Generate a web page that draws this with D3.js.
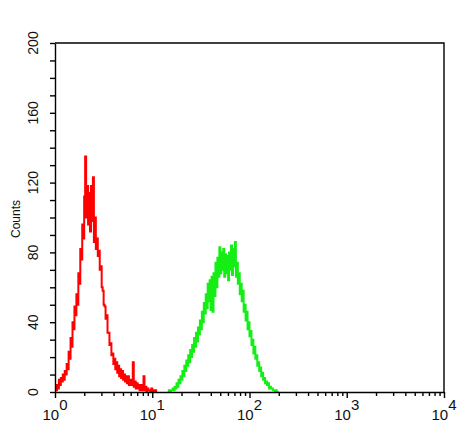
<!DOCTYPE html>
<html>
<head>
<meta charset="utf-8">
<script src="https://cdn.jsdelivr.net/npm/d3@7"></script>
<style>
    html, body { margin: 0; padding: 0; background: #fff; }
    svg { display: block; font-family: "Liberation Sans", Arial, sans-serif; }
</style>
</head>
<body>
<div id="chart"></div>
<script>
/**
 * Flow cytometry overlay histogram: two channels on a log x axis.
 */
(function() {
    "use strict";

    // log10 start of the first bin and bin width (decades)
    var redStart = 0.0;
    var greenStart = 1.16;
    var binWidth = 0.01;

    var redCounts = [
        2, 1, 4, 2, 7, 4, 8, 6, 10, 7,
        12, 10, 16, 13, 23, 19, 31, 26, 40, 36,
        49, 44, 56, 50, 68, 62, 82, 76, 96, 88,
        112, 135, 100, 118, 96, 114, 92, 118, 98, 123,
        86, 100, 82, 88, 78, 81, 70, 72, 60, 58,
        50, 49, 42, 44, 34, 34, 27, 28, 21, 22,
        16, 19, 13, 17, 11, 15, 9, 13, 8, 12,
        7, 10, 6, 9, 5, 9, 4, 7, 4, 6,
        17, 3, 6, 2, 5, 2, 4, 1, 4, 1,
        3, 9, 1, 3, 0, 2, 1, 1, 0, 2,
        0, 1, 0, 1, 0
    ];

    var greenCounts = [
        0, 1, 0, 1, 1, 2, 1, 3, 2, 5,
        3, 7, 5, 9, 7, 12, 9, 15, 12, 18,
        15, 21, 17, 24, 20, 27, 23, 31, 26, 34,
        29, 37, 33, 41, 36, 46, 40, 51, 45, 56,
        48, 62, 52, 64, 47, 66, 46, 68, 55, 74,
        60, 77, 66, 83, 68, 80, 70, 82, 66, 79,
        68, 78, 64, 80, 70, 84, 67, 82, 72, 86,
        66, 74, 62, 68, 56, 62, 52, 58, 46, 50,
        41, 46, 36, 40, 32, 35, 27, 30, 22, 26,
        19, 21, 15, 17, 12, 14, 9, 11, 7, 8,
        5, 6, 4, 5, 2, 3, 2, 2, 1, 1,
        0, 1, 0, 0, 0
    ];

    var xMajorTicks = [1, 10, 100, 1000, 10000];
    var xTickExponents = ["0", "1", "2", "3", "4"];
    var yLabelTicks = [0, 40, 80, 120, 160, 200];
    var yLabel = "Counts";

    var width = 467;
    var height = 443;
    var margin = { top: 43, right: 23, bottom: 51, left: 55 };

    var svg = d3.select("#chart")
        .append("svg")
        .attr("width", width)
        .attr("height", height);

    var x = d3.scaleLog()
        .domain([1, 10000])
        .range([margin.left, width - margin.right]);

    var y = d3.scaleLinear()
        .domain([0, 200])
        .range([height - margin.bottom, margin.top]);

    function toPoints(start, counts) {
        return counts.map(function(c, i) {
            return { v: Math.pow(10, start + i * binWidth), c: c };
        });
    }

    var line = d3.line()
        .x(function(d) { return x(d.v); })
        .y(function(d) { return y(d.c); })
        .curve(d3.curveStepAfter);

    svg.append("path")
        .datum(toPoints(redStart, redCounts))
        .attr("fill", "none")
        .attr("stroke", "#ff0000")
        .attr("stroke-width", 2)
        .attr("d", line);

    svg.append("path")
        .datum(toPoints(greenStart, greenCounts))
        .attr("fill", "none")
        .attr("stroke", "#14ee14")
        .attr("stroke-width", 2)
        .attr("d", line);

    // frame: top and right borders
    svg.append("path")
        .attr("fill", "none")
        .attr("stroke", "#000")
        .attr("stroke-width", 1.4)
        .attr("d", "M" + x.range()[0] + "," + y.range()[1] +
            "H" + x.range()[1] + "V" + y.range()[0]);

    // x axis with log minor ticks
    var xMinor = [];
    xMajorTicks.slice(0, -1).forEach(function(t) {
        for (var k = 2; k <= 9; k++) xMinor.push(t * k);
    });

    var xAxisG = svg.append("g")
        .attr("transform", "translate(0," + y.range()[0] + ")");

    xAxisG.append("g")
        .call(d3.axisBottom(x).tickValues(xMinor).tickSize(4).tickFormat(""))
        .call(function(g) { g.select(".domain").remove(); });

    xAxisG.append("g")
        .call(d3.axisBottom(x).tickValues(xMajorTicks).tickSize(6).tickSizeOuter(0).tickFormat(""));

    xAxisG.selectAll("line, path").attr("stroke", "#000").attr("stroke-width", 1.4);

    var xLabels = svg.append("g")
        .selectAll("text")
        .data(xMajorTicks)
        .join("text")
        .attr("x", function(d) { return x(d); })
        .attr("y", y.range()[0] + 28)
        .attr("text-anchor", "middle")
        .style("font-size", "15px")
        .style("fill", "#111");

    xLabels.append("tspan").text("10");
    xLabels.append("tspan")
        .attr("dy", -10)
        .text(function(d, i) { return xTickExponents[i]; });

    // y axis
    var yMinor = d3.range(0, 201, 10);

    svg.append("g")
        .attr("transform", "translate(" + x.range()[0] + ",0)")
        .call(d3.axisLeft(y).tickValues(yMinor).tickSize(5).tickSizeOuter(0).tickFormat(""))
        .call(function(g) {
            g.selectAll("line, path").attr("stroke", "#000").attr("stroke-width", 1.4);
        });

    svg.append("g")
        .selectAll("text")
        .data(yLabelTicks)
        .join("text")
        .attr("transform", function(d) { return "translate(38," + y(d) + ") rotate(-90)"; })
        .attr("text-anchor", "middle")
        .style("font-size", "14px")
        .style("fill", "#111")
        .text(function(d) { return d; });

    svg.append("text")
        .attr("transform", "translate(20,219) rotate(-90)")
        .attr("text-anchor", "middle")
        .style("font-size", "12px")
        .style("fill", "#111")
        .text(yLabel);
})();
</script>
</body>
</html>
